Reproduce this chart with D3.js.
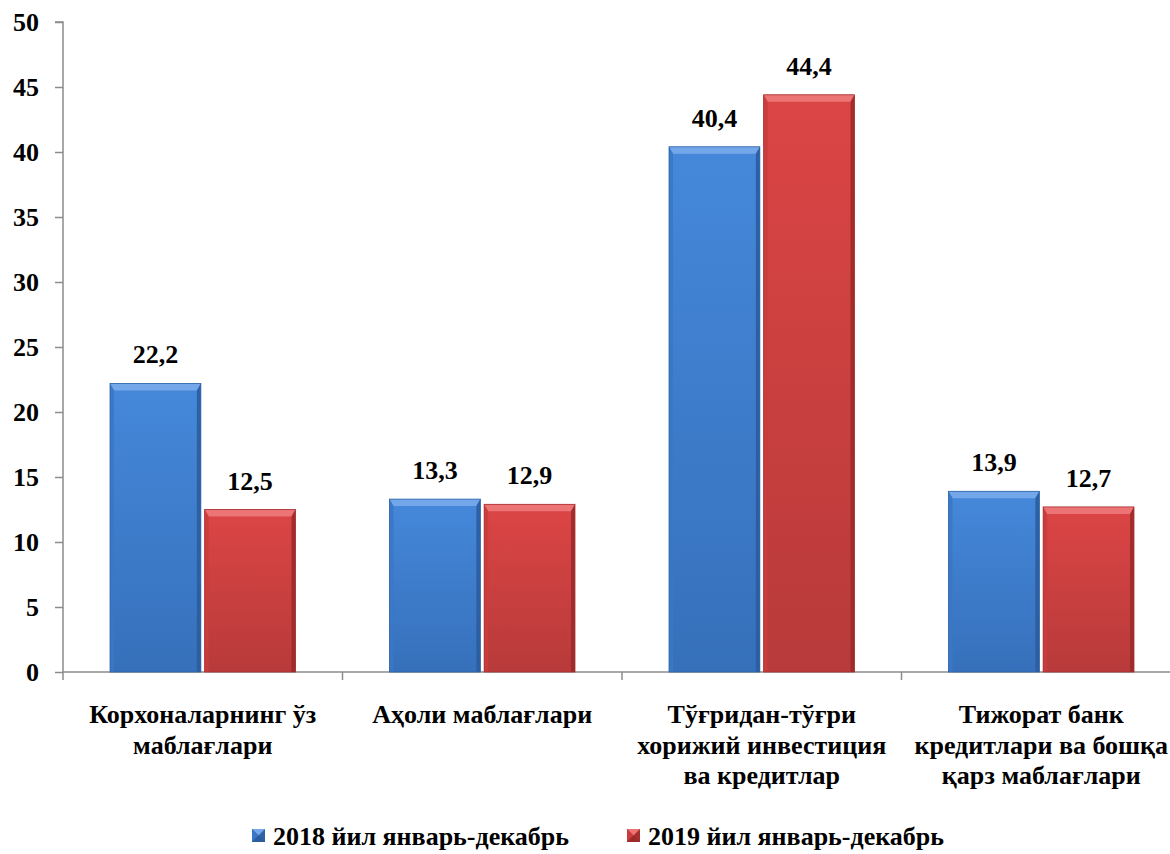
<!DOCTYPE html>
<html>
<head>
<meta charset="utf-8">
<script src="https://cdn.jsdelivr.net/npm/d3@7"></script>
</head>
<body style="margin:0">
<svg id="chart" width="1170" height="854"></svg>
<script>
const categories = [
  ["Корхоналарнинг ўз", "маблағлари"],
  ["Аҳоли маблағлари"],
  ["Тўғридан-тўғри", "хорижий инвестиция", "ва кредитлар"],
  ["Тижорат банк", "кредитлари ва бошқа", "қарз маблағлари"]
];
const seriesNames = ["2018 йил январь-декабрь", "2019 йил январь-декабрь"];
const values2018 = [22.2, 13.3, 40.4, 13.9];
const values2019 = [12.5, 12.9, 44.4, 12.7];
const yTicks = [0, 5, 10, 15, 20, 25, 30, 35, 40, 45, 50];

const FONT = "serif";
const svg = d3.select("#chart");
const margin = { left: 63, top: 22 };
const plotH = 650;
const band = 279.5;
const x0 = d3.scaleBand().domain(d3.range(categories.length)).range([margin.left, margin.left + band * categories.length]);
const y = d3.scaleLinear().domain([0, 50]).range([margin.top + plotH, margin.top]);
const x1 = d3.scaleBand().domain([0, 1]).range([47, band - 47]).paddingInner(0.04);

const palettes = [
  { top: "#4588da", bottom: "#3670bb", hi: "#74a7ea", left: "#3a78c6", right: "#2b5c9e", base: "#2f63a6" },
  { top: "#dc4545", bottom: "#b83a3a", hi: "#ec7474", left: "#c93d3d", right: "#9c2a2a", base: "#a53030" }
];
const defs = svg.append("defs");
palettes.forEach((p, i) => {
  const g = defs.append("linearGradient").attr("id", "grad" + i).attr("x1", 0).attr("y1", 0).attr("x2", 0).attr("y2", 1);
  g.append("stop").attr("offset", "0%").attr("stop-color", p.top);
  g.append("stop").attr("offset", "100%").attr("stop-color", p.bottom);
});

function txt(sel, size) {
  return sel.attr("font-family", FONT).attr("font-weight", "bold").attr("font-size", size).attr("fill", "#000");
}

// axes
const yAxis = d3.axisLeft(y).tickValues(yTicks).tickSize(8).tickPadding(16).tickFormat(d3.format("d"));
const gy = svg.append("g").attr("transform", `translate(${margin.left},0)`).call(yAxis);
gy.attr("font-family", FONT);
gy.selectAll("path, line").attr("stroke", "#8c8c8c").attr("stroke-width", 1.5);
gy.select(".domain").attr("d", `M-8,${y(50)}H0V${y(0)}`);
txt(gy.selectAll("text"), 26);

svg.append("line").attr("x1", margin.left).attr("x2", 1170).attr("y1", y(0)).attr("y2", y(0))
  .attr("stroke", "#8c8c8c").attr("stroke-width", 1.5);
svg.selectAll(".xtick").data(d3.range(categories.length)).join("line")
  .attr("x1", d => x0(d)).attr("x2", d => x0(d)).attr("y1", y(0)).attr("y2", y(0) + 8)
  .attr("stroke", "#8c8c8c").attr("stroke-width", 1.5);

// bars
function bevelBar(g, bx, by, w, h, p, gid) {
  const bt = Math.min(7, h / 2), bs = 4;
  g.append("rect").attr("x", bx).attr("y", by).attr("width", w).attr("height", h).attr("fill", `url(#${gid})`);
  g.append("polygon").attr("points", `${bx},${by} ${bx + w},${by} ${bx + w - bs},${by + bt} ${bx + bs},${by + bt}`).attr("fill", p.hi);
  g.append("polygon").attr("points", `${bx},${by} ${bx + bs},${by + bt} ${bx + bs},${by + h} ${bx},${by + h}`).attr("fill", p.left).attr("opacity", 0.9);
  g.append("polygon").attr("points", `${bx + w},${by} ${bx + w - bs},${by + bt} ${bx + w - bs},${by + h} ${bx + w},${by + h}`).attr("fill", p.right).attr("opacity", 0.9);
  g.append("rect").attr("x", bx).attr("y", by).attr("width", w).attr("height", h).attr("fill", "none").attr("stroke", p.base).attr("stroke-width", 0.8);
}
const seriesVals = [values2018, values2019];
seriesVals.forEach((vals, s) => {
  const g = svg.append("g");
  vals.forEach((v, i) => {
    const bx = x0(i) + x1(s);
    bevelBar(g, bx, y(v), x1.bandwidth(), y(0) - y(v), palettes[s], "grad" + s);
  });
  txt(svg.append("g").selectAll("text").data(vals).join("text"), 26)
    .attr("x", (v, i) => x0(i) + x1(s) + x1.bandwidth() / 2)
    .attr("y", v => y(v) - 20)
    .attr("text-anchor", "middle")
    .text(v => d3.format(".1f")(v).replace(".", ","));
});

// category labels
categories.forEach((lines, i) => {
  const t = txt(svg.append("text"), 26).attr("text-anchor", "middle");
  lines.forEach((ln, j) => {
    t.append("tspan").attr("x", x0(i) + band / 2).attr("y", 723 + j * 30.5).text(ln);
  });
});

// legend
const legendX = [252, 627];
seriesNames.forEach((name, s) => {
  const p = palettes[s];
  const lx = legendX[s], ly = 829, sz = 13;
  const g = svg.append("g");
  g.append("rect").attr("x", lx).attr("y", ly).attr("width", sz).attr("height", sz).attr("fill", p.base);
  g.append("polygon").attr("points", `${lx},${ly} ${lx + sz},${ly} ${lx + sz / 2},${ly + sz / 2}`).attr("fill", p.hi);
  g.append("polygon").attr("points", `${lx},${ly} ${lx + sz / 2},${ly + sz / 2} ${lx},${ly + sz}`).attr("fill", p.left);
  g.append("polygon").attr("points", `${lx},${ly + sz} ${lx + sz / 2},${ly + sz / 2} ${lx + sz},${ly + sz}`).attr("fill", p.right);
  txt(svg.append("text"), 26).attr("x", lx + 21).attr("y", 845).text(name);
});
</script>
</body>
</html>
